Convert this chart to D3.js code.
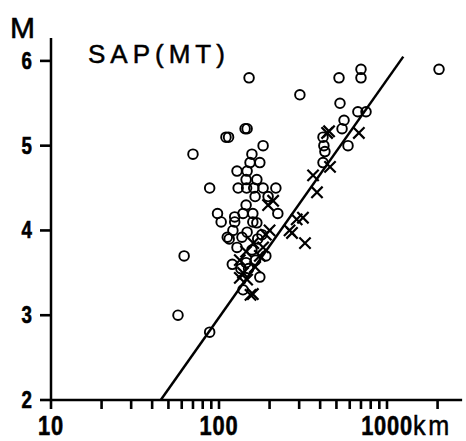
<!DOCTYPE html>
<html>
<head>
<meta charset="utf-8">
<script src="https://cdn.jsdelivr.net/npm/d3@7/dist/d3.min.js"></script>
<style>
  body { margin: 0; background: #fff; }
  svg { display: block; }
</style>
</head>
<body>
<div id="chart"></div>
<script>
// distance (km), magnitude M
var circles = [
  [151, 5.8], [303, 5.6], [143, 5.2], [147, 5.2], [110, 5.1], [114, 5.1],
  [70, 4.9], [183, 5.0], [157, 4.9], [153, 4.8], [175, 4.8],
  [128, 4.7], [147, 4.7], [145, 4.6], [168, 4.6],
  [88, 4.5], [130, 4.5], [146, 4.5], [161, 4.5], [183, 4.5], [218, 4.5],
  [164, 4.4], [196, 4.4], [145, 4.3],
  [224, 4.2], [98, 4.2], [139, 4.2], [159, 4.2], [124, 4.16],
  [103, 4.1], [124, 4.1], [159, 4.1], [168, 4.09],
  [112, 3.92], [121, 4.0], [128, 3.8], [137, 3.92], [147, 3.98], [157, 3.77],
  [115, 3.9], [170, 3.9], [180, 3.95], [190, 3.7], [165, 3.65],
  [150, 3.55], [175, 3.45], [145, 3.62], [120, 3.6], [135, 3.55], [139, 3.3],
  [62, 3.7], [57, 3.0], [88, 2.8],
  [518, 5.8], [700, 5.9], [700, 5.8], [2040, 5.9], [525, 5.5],
  [671, 5.4], [750, 5.4], [555, 5.3], [540, 5.2], [416, 5.1],
  [421, 5.0], [427, 4.93], [586, 5.0], [416, 4.8]
];

var crosses = [
  [440, 5.15], [452, 5.17], [680, 5.15], [458, 4.75], [363, 4.65], [383, 4.45],
  [196, 4.3], [316, 4.15], [290, 4.13], [263, 4.0], [272, 3.97], [325, 3.85],
  [200, 4.0], [183, 3.8], [133, 3.65], [139, 3.5], [154, 3.24], [159, 3.25],
  [133, 3.44], [164, 3.57], [147, 3.42], [160, 3.85], [175, 3.7], [190, 3.95],
  [210, 4.35], [145, 3.75]
];

// fitted line end points
var fitLine = [[45, 2.0], [1250, 6.05]];

var xTicks = [10, 20, 30, 40, 50, 60, 70, 80, 90,
              100, 200, 300, 400, 500, 600, 700, 800, 900, 1000, 2000];
var xLabels = [10, 100, 1000];
var yTicks = [2, 3, 4, 5, 6];

function init() {
    var w = 466, h = 441;
    var font = "Liberation Sans, Arial, sans-serif";

    var svg = d3.select("#chart")
                .append("svg")
                .attr("width", w)
                .attr("height", h);

    var xScale = d3.scaleLog().domain([10, 2800]).range([51, 51 + 168 * Math.log10(280)]);
    var yScale = d3.scaleLinear().domain([2, 6.27]).range([400, 38]);
    var x0 = xScale(10), y0 = yScale(2);

    // axis lines
    svg.append("line")
       .attr("x1", x0).attr("x2", xScale.range()[1])
       .attr("y1", y0).attr("y2", y0)
       .attr("stroke", "#000").attr("stroke-width", 2.5);
    svg.append("line")
       .attr("x1", x0).attr("x2", x0)
       .attr("y1", yScale.range()[1]).attr("y2", y0 + 1)
       .attr("stroke", "#000").attr("stroke-width", 2.5);

    // x ticks, hanging below the axis
    svg.append("g")
       .selectAll("rect")
       .data(xTicks)
       .enter()
       .append("rect")
       .attr("x", function(d) { return xScale(d) - 1.3; })
       .attr("y", y0)
       .attr("width", 2.6)
       .attr("height", 9)
       .attr("fill", "#000");

    svg.append("g")
       .selectAll("text")
       .data(xLabels)
       .enter()
       .append("text")
       .attr("transform", function(d) { return "translate(" + xScale(d) + "," + (y0 + 35) + ") scale(0.78,1)"; })
       .attr("text-anchor", "middle")
       .attr("font-family", font)
       .attr("font-weight", "bold")
       .attr("font-size", 28)
       .attr("letter-spacing", 1)
       .attr("stroke", "#000")
       .attr("stroke-width", 0.6)
       .text(function(d) { return d; });

    svg.append("text")
       .attr("transform", "translate(413," + (y0 + 35) + ") scale(0.9,1)")
       .attr("font-family", font)
       .attr("font-size", 28)
       .attr("letter-spacing", 3)
       .attr("stroke", "#000")
       .attr("stroke-width", 0.5)
       .text("km");

    // y ticks, pointing left
    svg.append("g")
       .selectAll("rect")
       .data(yTicks)
       .enter()
       .append("rect")
       .attr("x", x0 - 11)
       .attr("y", function(d) { return yScale(d) - 1.3; })
       .attr("width", 11)
       .attr("height", 2.6)
       .attr("fill", "#000");

    svg.append("g")
       .selectAll("text")
       .data(yTicks)
       .enter()
       .append("text")
       .attr("transform", function(d) { return "translate(" + (x0 - 19) + "," + (yScale(d) + 8) + ") scale(0.78,1)"; })
       .attr("text-anchor", "end")
       .attr("font-family", font)
       .attr("font-weight", "bold")
       .attr("font-size", 24)
       .attr("stroke", "#000")
       .attr("stroke-width", 0.6)
       .text(function(d) { return d; });

    // axis name and title
    svg.append("text")
       .attr("x", 10)
       .attr("y", 38)
       .attr("font-family", font)
       .attr("font-size", 30)
       .attr("stroke", "#000")
       .attr("stroke-width", 0.6)
       .text("M");

    svg.append("text")
       .attr("x", 88)
       .attr("y", 63)
       .attr("font-family", font)
       .attr("font-size", 26)
       .attr("letter-spacing", 5)
       .attr("stroke", "#000")
       .attr("stroke-width", 0.5)
       .text("SAP(MT)");

    // fitted line
    svg.append("line")
       .attr("x1", xScale(fitLine[0][0]))
       .attr("y1", yScale(fitLine[0][1]))
       .attr("x2", xScale(fitLine[1][0]))
       .attr("y2", yScale(fitLine[1][1]))
       .attr("stroke", "#000")
       .attr("stroke-width", 2.5);

    // open circles
    svg.append("g")
       .selectAll("circle")
       .data(circles)
       .enter()
       .append("circle")
       .attr("cx", function(d) { return xScale(d[0]); })
       .attr("cy", function(d) { return yScale(d[1]); })
       .attr("r", 4.8)
       .attr("fill", "none")
       .attr("stroke", "#000")
       .attr("stroke-width", 1.9);

    // crosses
    var cross = d3.symbol().type(d3.symbolTimes).size(85);
    svg.append("g")
       .selectAll("path")
       .data(crosses)
       .enter()
       .append("path")
       .attr("d", cross)
       .attr("transform", function(d) {
           return "translate(" + xScale(d[0]) + "," + yScale(d[1]) + ")";
       })
       .attr("fill", "none")
       .attr("stroke", "#000")
       .attr("stroke-width", 2.2);
}

window.onload = init;
</script>
</body>
</html>
